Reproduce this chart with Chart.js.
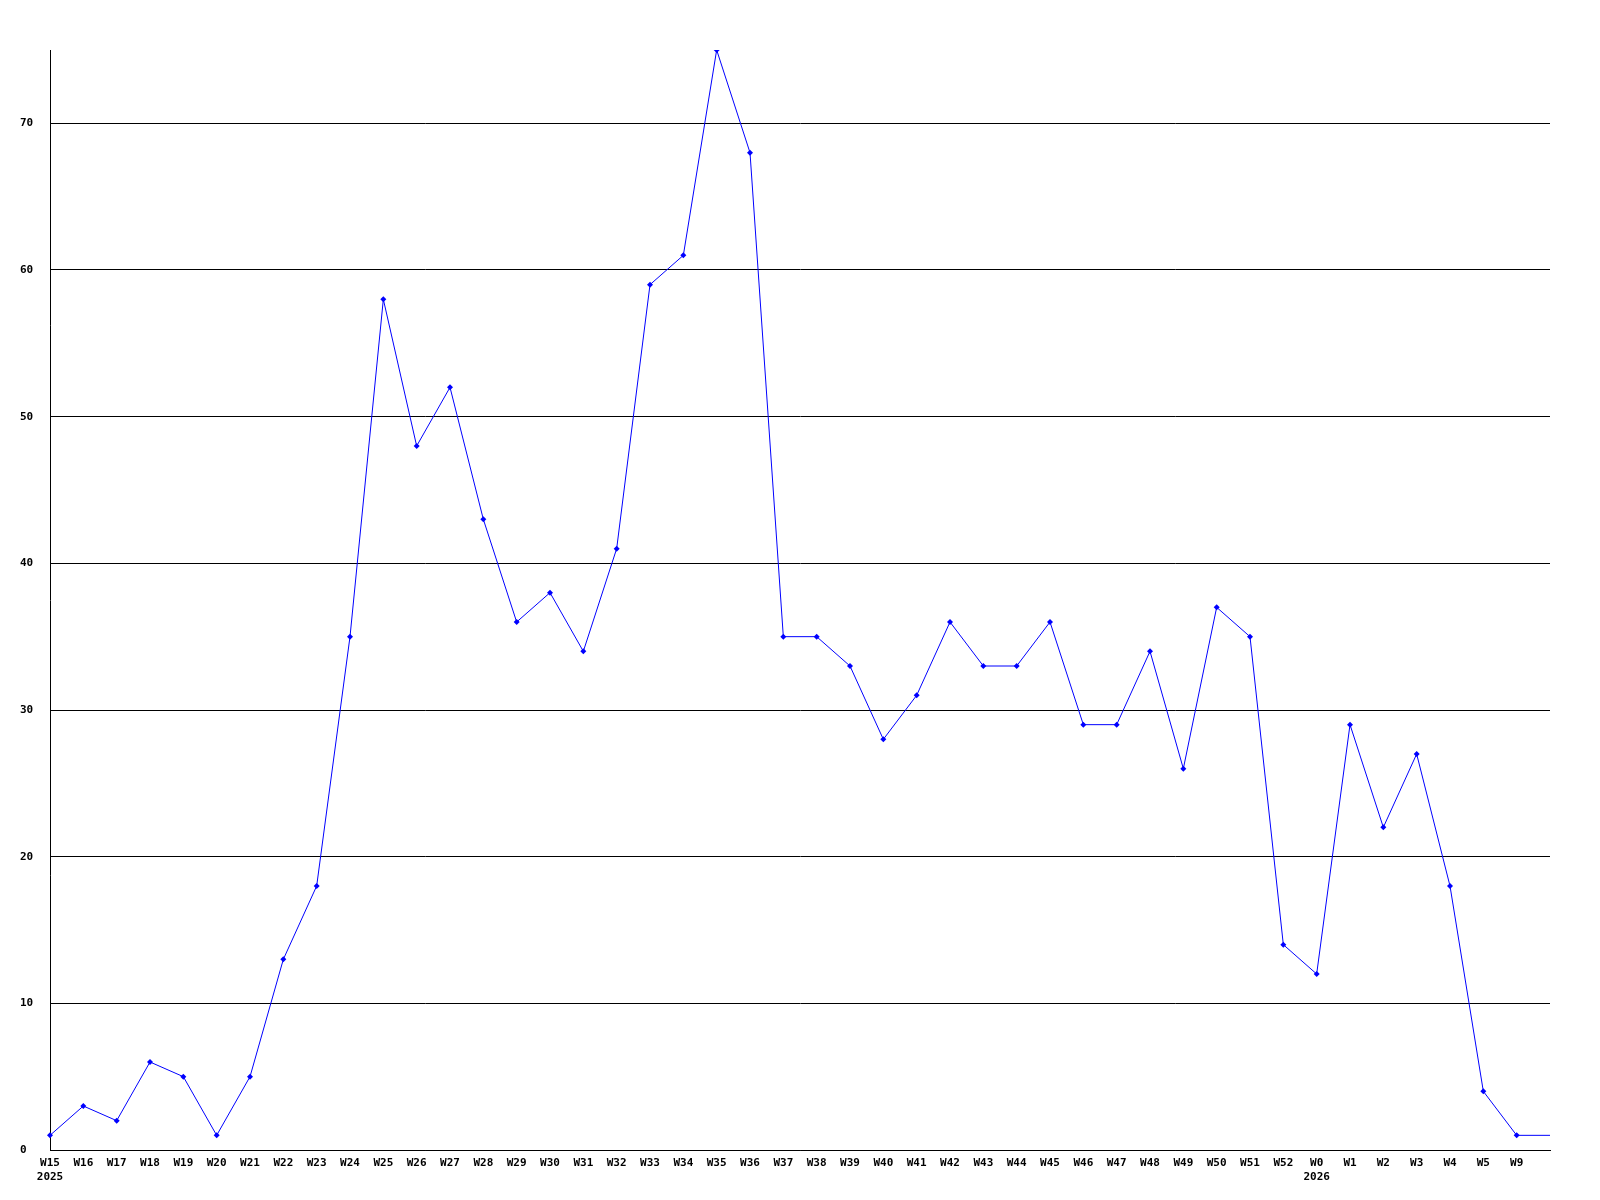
<!DOCTYPE html>
<html>
<head>
<meta charset="utf-8">
<script src="https://cdn.jsdelivr.net/npm/chart.js@4/dist/chart.umd.min.js"></script>
<style>
  html, body { margin: 0; padding: 0; background: #fff; }
  #wrap { width: 1600px; height: 1200px; }
</style>
</head>
<body>
<div id="wrap"><canvas id="chart"></canvas></div>
<script>
// Weekly counts, W15 2025 .. W9 2026 (last entry is the unlabeled tail)
const weeks = ['W15', 'W16', 'W17', 'W18', 'W19', 'W20', 'W21', 'W22', 'W23', 'W24',
    'W25', 'W26', 'W27', 'W28', 'W29', 'W30', 'W31', 'W32', 'W33', 'W34',
    'W35', 'W36', 'W37', 'W38', 'W39', 'W40', 'W41', 'W42', 'W43', 'W44',
    'W45', 'W46', 'W47', 'W48', 'W49', 'W50', 'W51', 'W52', 'W0', 'W1',
    'W2', 'W3', 'W4', 'W5', 'W9', ''];
const years = { 'W15': '2025', 'W0': '2026' };
const counts = [1, 3, 2, 6, 5, 1, 5, 13, 18, 35,
    58, 48, 52, 43, 36, 38, 34, 41, 59, 61,
    75, 68, 35, 35, 33, 28, 31, 36, 33, 33,
    36, 29, 29, 34, 26, 37, 35, 14, 12, 29,
    22, 27, 18, 4, 1, 1];
const yTicks = [0, 10, 20, 30, 40, 50, 60, 70];

const labels = weeks.map(w => years[w] ? [w, years[w]] : w);
const radius = weeks.map(w => w === '' ? 0 : 3);

const tickFont = { family: 'DejaVu Sans Mono', size: 11, weight: 'bold', lineHeight: 1.3 };

const ctx = document.getElementById('chart').getContext('2d');
new Chart(ctx, {
    type: 'line',
    data: {
        labels: labels,
        datasets: [{
            data: counts,
            borderColor: '#0000ff',
            backgroundColor: '#0000ff',
            borderWidth: 1,
            pointStyle: 'rectRot',
            pointRadius: radius,
            pointHoverRadius: radius,
            pointBorderWidth: 0,
            tension: 0,
            fill: false
        }]
    },
    options: {
        responsive: true,
        maintainAspectRatio: false,
        animation: false,
        events: [],
        layout: { padding: { left: 20, right: 50, top: 50, bottom: 0 } },
        plugins: { legend: { display: false }, tooltip: { enabled: false } },
        scales: {
            x: {
                offset: false,
                grid: { display: false, drawTicks: false },
                border: { display: true, color: '#000', width: 1 },
                ticks: {
                    autoSkip: false,
                    maxRotation: 0,
                    minRotation: 0,
                    padding: 6,
                    color: '#000',
                    font: tickFont
                },
                afterFit: scale => { scale.height = 50; }
            },
            y: {
                min: 0,
                max: 75,
                afterBuildTicks: scale => {
                    scale.ticks = yTicks.map(v => ({ value: v }));
                },
                grid: { color: '#000', lineWidth: 1, drawTicks: false },
                border: { display: true, color: '#000', width: 1 },
                ticks: {
                    crossAlign: 'far',
                    padding: 0,
                    color: '#000',
                    font: tickFont
                },
                afterFit: scale => { scale.width = 30; }
            }
        }
    }
});
</script>
</body>
</html>
